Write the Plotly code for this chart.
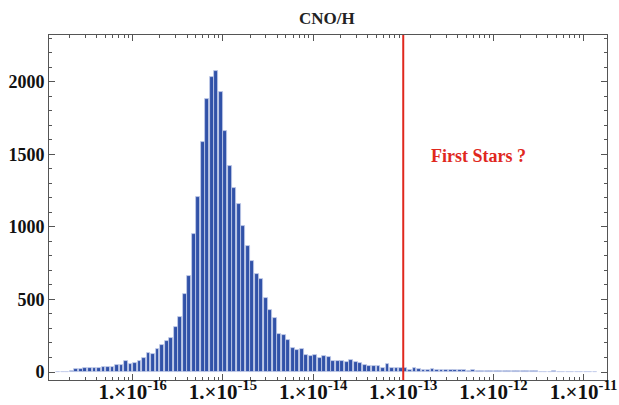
import numpy as np
import plotly.graph_objects as go

# Histogram of CNO/H abundance, binned in log10 with 0.05-dex bins
log_bin_start = -16.85
bin_width = 0.05
counts = [
    0, 1, 2, 6, 20, 18, 31, 25, 28, 31,
    32, 36, 36, 50, 50, 77, 55, 60, 77, 100,
    129, 127, 159, 185, 215, 234, 309, 378, 540, 660,
    948, 1204, 1582, 1884, 2033, 2075, 1930, 1662, 1422, 1266,
    1160, 1004, 868, 763, 672, 639, 510, 426, 372, 262,
    255, 220, 163, 149, 158, 119, 108, 117, 96, 110,
    101, 78, 73, 78, 69, 82, 71, 62, 46, 39,
    39, 42, 27, 57, 25, 27, 27, 30, 14, 25,
    20, 14, 14, 18, 12, 15, 14, 11, 15, 12,
    13, 10, 11, 9, 10, 7, 8, 6, 7, 6,
    5, 6, 4, 5, 4, 4, 4, 3, 0, 3,
    4, 3, 3, 0, 3, 3, 3, 3, 3, 2,
]

# Decade ticks and their labels
decades = [-16, -15, -14, -13, -12, -11]
decade_labels = ["1.×10<sup>-%d</sup>" % n for n in (16, 15, 14, 13, 12, 11)]
y_ticks = [0, 500, 1000, 1500, 2000]

first_stars_log = -13
marker_text = "First Stars ?"
title_text = "CNO/H"

x_range = [-16.929, -10.74]
y_range = [-55, 2322]

centers = log_bin_start + bin_width * (np.arange(len(counts)) + 0.5)

# log-scale minor ticks (2..9 within each decade)
minor_x = []
for d in range(-17, -10):
    for k in range(2, 10):
        v = d + np.log10(k)
        if x_range[0] < v < x_range[1]:
            minor_x.append(v)
minor_y = [v for v in range(0, 2400, 100) if v % 500 != 0]

serif = "Liberation Serif"
frame_col = "#555555"

fig = go.Figure()
fig.add_trace(go.Bar(
    x=centers, y=counts, width=bin_width * 0.86,
    marker=dict(color="#3152A8", line=dict(color="#C3CDEA", width=0.8)),
    hoverinfo="skip",
))

fig.add_shape(type="line", x0=first_stars_log, x1=first_stars_log, y0=0, y1=1,
              yref="paper", xref="x", line=dict(color="#E0281E", width=2))

fig.add_annotation(x=-12.716, y=1491, text=marker_text, showarrow=False,
                   xanchor="left", yanchor="middle",
                   font=dict(family=serif, size=18, color="#E0281E", weight="bold"))

fig.update_layout(
    width=619, height=405,
    margin=dict(l=49, r=12, t=35, b=25, autoexpand=False),
    paper_bgcolor="white", plot_bgcolor="white",
    showlegend=False,
    bargap=0,
    title=dict(text=title_text, x=0.528, xanchor="center", y=0.956, yanchor="middle",
               yref="container",
               font=dict(family=serif, size=17, color="#222222", weight="bold")),
)

fig.update_xaxes(
    automargin=False,
    range=x_range, tickmode="array", tickvals=decades, ticktext=decade_labels,
    ticks="inside", ticklen=6, tickwidth=1, tickcolor=frame_col,
    showline=True, linecolor=frame_col, linewidth=1, mirror="allticks",
    showgrid=False, zeroline=False, ticklabelstandoff=-7,
    tickfont=dict(family=serif, size=21, color="#111111", weight="bold"),
    minor=dict(tickmode="array", tickvals=minor_x, ticks="inside", ticklen=3,
               tickcolor=frame_col, showgrid=False),
)
fig.update_yaxes(
    automargin=False,
    range=y_range, tickmode="array", tickvals=y_ticks,
    ticks="inside", ticklen=6, tickwidth=1, tickcolor=frame_col,
    showline=True, linecolor=frame_col, linewidth=1, mirror="allticks",
    showgrid=False, zeroline=False,
    tickfont=dict(family=serif, size=18, color="#111111", weight="bold"),
    minor=dict(tickmode="array", tickvals=minor_y, ticks="inside", ticklen=3,
               tickcolor=frame_col, showgrid=False),
)

fig.write_html("out.html")
